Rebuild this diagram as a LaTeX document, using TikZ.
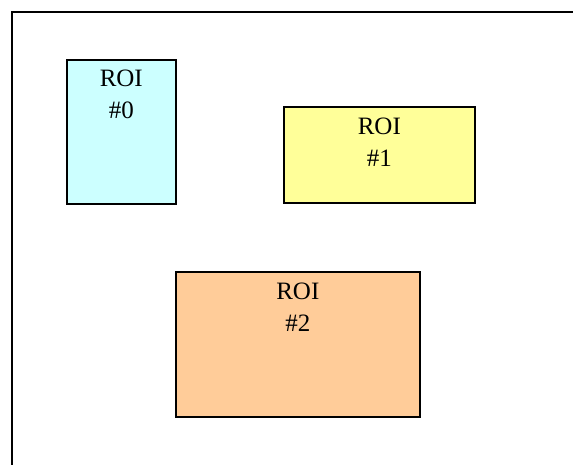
\documentclass[tikz,border=0pt]{standalone}
\usepackage{fontspec}
\setmainfont{Liberation Serif}
\begin{document}
\begin{tikzpicture}[x=1pt, y=-1pt,
    roi/.style={draw=black, line width=1.6pt, inner sep=0pt, anchor=north west},
    roitext/.style={anchor=north, inner sep=0pt, align=center, font=\fontsize{25}{32}\selectfont}]

    % Colors
    \definecolor{cyanroi}{RGB}{204,255,255}
    \definecolor{yellowroi}{RGB}{255,255,153}
    \definecolor{orangeroi}{RGB}{255,204,153}

    % Frame
    \useasboundingbox (0,0) rectangle (573,464);
    \coordinate (fbl) at (12,470);
    \coordinate (ftl) at (12,12);
    \coordinate (ftr) at (580,12);
    \draw[line width=1.8pt] (fbl) -- (ftl) -- (ftr);

    % Regions
    \node[roi, fill=cyanroi, minimum width=109pt, minimum height=144pt] (roi0) at (66,59) {};
    \node[roi, fill=yellowroi, minimum width=191pt, minimum height=96pt] (roi1) at (283,106) {};
    \node[roi, fill=orangeroi, minimum width=244pt, minimum height=145pt] (roi2) at (175,271) {};

    % Labels
    \node[roitext] (lab0) at ([yshift=-11pt]roi0.north) {ROI\\\#0};
    \node[roitext] (lab1) at ([yshift=-12pt]roi1.north) {ROI\\\#1};
    \node[roitext] (lab2) at ([yshift=-12pt]roi2.north) {ROI\\\#2};

\end{tikzpicture}
\end{document}
